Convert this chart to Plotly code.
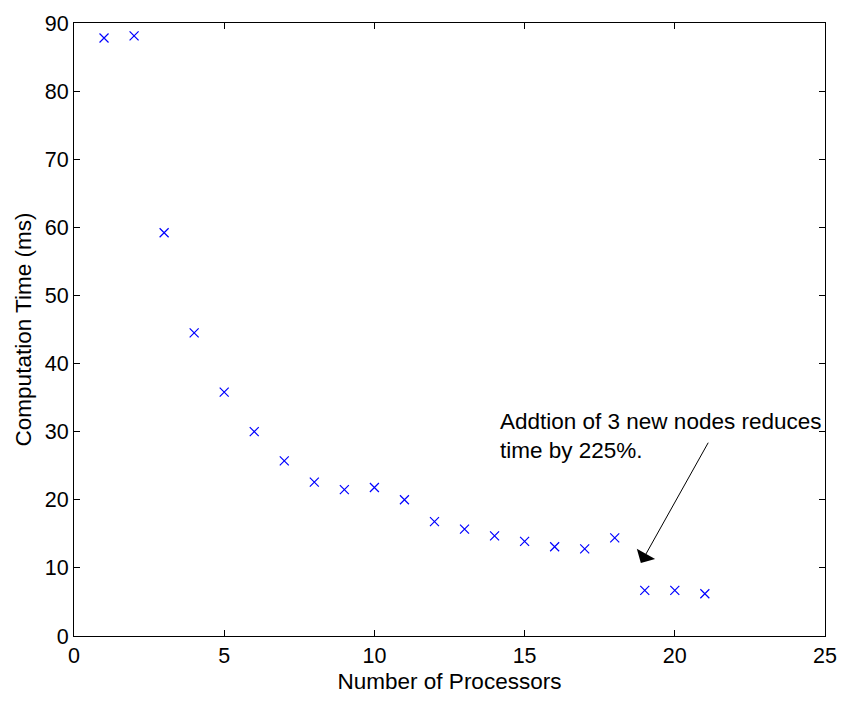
import plotly.graph_objects as go

# Timing results per processor count
processors = list(range(1, 22))
comp_time_ms = [87.8, 88.1, 59.2, 44.5, 35.8, 30.0, 25.7, 22.6, 21.5, 21.8, 20.0,
                16.8, 15.7, 14.7, 13.9, 13.1, 12.8, 14.4, 6.7, 6.7, 6.2]

note_text = "Addtion of 3 new nodes reduces<br>time by 225%."

FAMILY = "Liberation Sans, Arial, sans-serif"
TICK_FONT = dict(family=FAMILY, size=21.5, color="black")
TITLE_FONT = dict(family=FAMILY, size=22.5, color="black")

fig = go.Figure()
fig.add_trace(go.Scatter(
    x=processors, y=comp_time_ms, mode="markers",
    marker=dict(symbol="x-thin", size=9, color="blue",
                line=dict(color="blue", width=1.2)),
    showlegend=False,
))

axis_common = dict(
    showline=True, linecolor="black", linewidth=1, mirror="ticks",
    ticks="inside", ticklen=6, tickcolor="black", tickwidth=1,
    showgrid=False, zeroline=False, tickfont=TICK_FONT,
)

fig.update_xaxes(range=[0, 25], dtick=5, tick0=0,
                 title=dict(text="Number of Processors", font=TITLE_FONT, standoff=6),
                 **axis_common)
fig.update_yaxes(range=[0, 90], dtick=10, tick0=0,
                 title=dict(text="Computation Time (ms)", font=TITLE_FONT, standoff=6),
                 **axis_common)

# Callout text and arrow pointing at the drop after 18 processors
fig.add_annotation(x=14.11, y=33.6, xref="x", yref="y", text=note_text,
                   showarrow=False, xanchor="left", yanchor="top", align="left",
                   font=TITLE_FONT)
fig.add_annotation(x=18.87, y=10.7, ax=21.14, ay=28.6, xref="x", yref="y",
                   axref="x", ayref="y", text="", showarrow=True,
                   arrowhead=1, arrowsize=3.5, arrowwidth=1, arrowcolor="black")

fig.update_layout(
    width=849, height=702,
    margin=dict(l=74, r=14, t=20, b=63),
    paper_bgcolor="white", plot_bgcolor="white",
    font=TICK_FONT,
)

fig.write_html("out.html")
